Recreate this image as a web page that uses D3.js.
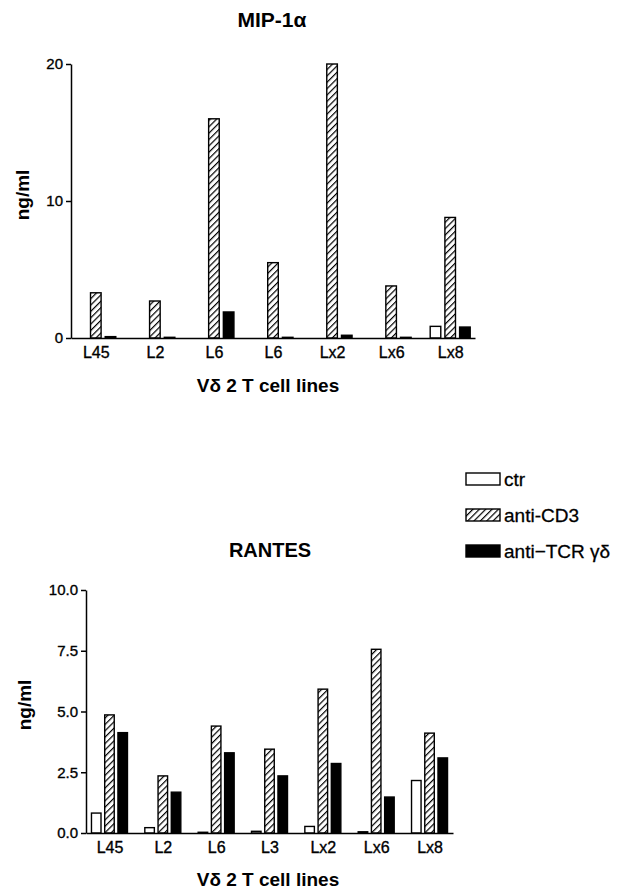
<!DOCTYPE html>
<html>
<head>
<meta charset="utf-8">
<script src="https://cdn.jsdelivr.net/npm/d3@7"></script>
<style>
	body { margin: 0; background: #fff; }
	svg { font-family: "Liberation Sans", Arial, sans-serif; }
	.axis path, .axis line { stroke: #000; stroke-width: 1.5; }
	.axis text { font-size: 15px; fill: #000; stroke: #000; stroke-width: 0.35; }
</style>
</head>
<body>
<div id="outerDiv"></div>
<script>
// data
var seriesNames	= ["ctr", "anti-CD3", "anti\u2212TCR \u03b3\u03b4"];

var mipLines	= ["L45", "L2", "L6", "L6", "Lx2", "Lx6", "Lx8"];
var mipCtr		= [0, 0, 0, 0, 0, 0, 0.85];
var mipCD3		= [3.3, 2.7, 16, 5.5, 20, 3.8, 8.8];
var mipTCR		= [0.1, 0.05, 1.9, 0.05, 0.2, 0.05, 0.8];
var mipTicks	= [0, 10, 20];

var rantesLines	= ["L45", "L2", "L6", "L3", "Lx2", "Lx6", "Lx8"];
var rantesCtr	= [0.82, 0.22, 0.03, 0.07, 0.27, 0.05, 2.16];
var rantesCD3	= [4.86, 2.35, 4.4, 3.45, 5.92, 7.56, 4.11];
var rantesTCR	= [4.13, 1.68, 3.3, 2.35, 2.86, 1.48, 3.09];
var rantesTicks	= [0, 2.5, 5, 7.5, 10];

var width = 621, height = 890;

var svg = d3.select("#outerDiv").append("svg")
	.attr("width", width)
	.attr("height", height);

// diagonal hatch for anti-CD3
var pat = svg.append("defs").append("pattern")
	.attr("id", "hatch")
	.attr("patternUnits", "userSpaceOnUse")
	.attr("width", 4.5)
	.attr("height", 4.5)
	.attr("patternTransform", "rotate(45)");
pat.append("rect").attr("width", 4.5).attr("height", 4.5).attr("fill", "#fff");
pat.append("line").attr("x1", 0).attr("y1", 0).attr("x2", 0).attr("y2", 4.5)
	.attr("stroke", "#000").attr("stroke-width", 2.4);

var fills = ["#fff", "url(#hatch)", "#000"];

function drawChart(o)
{
	var g = svg.append("g");

	var x = d3.scalePoint()
		.domain(d3.range(o.lines.length))
		.range([o.left, o.right])
		.padding(o.pad);

	var x1 = d3.scaleBand()
		.domain([0, 1, 2])
		.range([-o.groupW / 2, o.groupW / 2])
		.paddingInner(o.inner);

	var y = d3.scaleLinear()
		.domain([0, o.max])
		.range([o.bottom, o.top]);

	var rows = o.lines.map(function(name, i)
	{
		return {i: i, vals: [o.ctr[i], o.cd3[i], o.tcr[i]]};
	});

	var grp = g.selectAll(".grp").data(rows).enter().append("g")
		.attr("transform", function(d) { return "translate(" + x(d.i) + ",0)"; });

	grp.selectAll("rect")
		.data(function(d) { return d.vals.map(function(v, k) { return {k: k, v: v}; }); })
		.enter().filter(function(d) { return d.v > 0; })
		.append("rect")
		.attr("x", function(d) { return x1(d.k); })
		.attr("width", x1.bandwidth())
		.attr("y", function(d) { return y(d.v); })
		.attr("height", function(d) { return o.bottom - y(d.v); })
		.attr("fill", function(d) { return fills[d.k]; })
		.attr("stroke", "#000")
		.attr("stroke-width", 1.4);

	g.append("g")
		.attr("class", "axis")
		.attr("transform", "translate(" + o.left + ",0)")
		.call(d3.axisLeft(y).tickValues(o.ticks).tickFormat(d3.format(o.fmt)).tickSize(5).tickSizeOuter(0).tickPadding(3));

	var xa = g.append("g")
		.attr("class", "axis")
		.attr("transform", "translate(0," + o.bottom + ")")
		.call(d3.axisBottom(x).tickSize(0).tickSizeOuter(0).tickPadding(9)
			.tickFormat(function(i) { return o.lines[i]; }));
	xa.selectAll("text").style("font-size", "16px");

	g.append("text")
		.attr("transform", "translate(" + o.ylabX + "," + o.ylabY + ")rotate(-90)")
		.attr("text-anchor", "middle")
		.attr("dy", "0.35em")
		.style("font-size", "19px")
		.style("font-weight", "bold")
		.text("ng/ml");

	g.append("text")
		.attr("x", o.titleX)
		.attr("y", o.titleY)
		.attr("text-anchor", "middle")
		.style("font-size", o.titleSize)
		.style("font-weight", "bold")
		.text(o.title);

	g.append("text")
		.attr("x", 268)
		.attr("y", o.xlabY)
		.attr("text-anchor", "middle")
		.style("font-size", "19px")
		.style("font-weight", "bold")
		.text("V\u03b4 2 T cell lines");
}

drawChart({
	lines: mipLines, ctr: mipCtr, cd3: mipCD3, tcr: mipTCR,
	ticks: mipTicks, fmt: "d", max: 20,
	left: 71, right: 475, pad: 0.42, groupW: 40, inner: 0.28,
	top: 64, bottom: 338,
	ylabX: 22, ylabY: 195, title: "MIP-1\u03b1", titleSize: "21px", titleX: 272, titleY: 27, xlabY: 392
});

drawChart({
	lines: rantesLines, ctr: rantesCtr, cd3: rantesCD3, tcr: rantesTCR,
	ticks: rantesTicks, fmt: ".1f", max: 10,
	left: 86, right: 453, pad: 0.44, groupW: 36, inner: 0.28,
	top: 590, bottom: 833,
	ylabX: 24, ylabY: 705, title: "RANTES", titleSize: "20px", titleX: 270, titleY: 557, xlabY: 886
});

// legend
var legend = svg.append("g").attr("transform", "translate(466,473)");
var item = legend.selectAll("g").data(seriesNames).enter().append("g")
	.attr("transform", function(d, i) { return "translate(0," + (i * 36) + ")"; });

item.append("rect")
	.attr("width", 34)
	.attr("height", 12)
	.attr("fill", function(d, i) { return fills[i]; })
	.attr("stroke", "#000")
	.attr("stroke-width", 1.4);

item.append("text")
	.attr("x", 38)
	.attr("y", 6)
	.attr("dy", "0.35em")
	.style("font-size", "19px")
	.style("stroke", "#000")
	.style("stroke-width", 0.3)
	.text(function(d) { return d; });
</script>
</body>
</html>
